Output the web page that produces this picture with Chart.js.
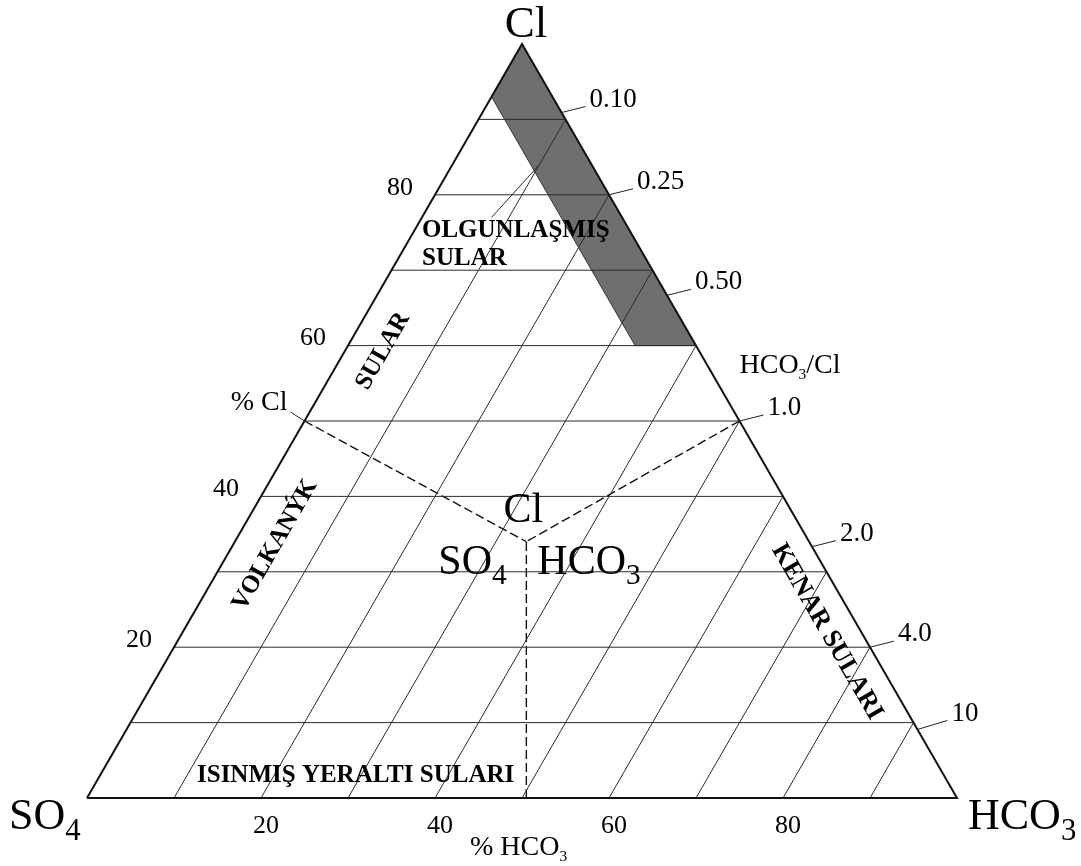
<!DOCTYPE html>
<html>
<head>
<meta charset="utf-8">
<title>Cl – SO4 – HCO3 üçgen diyagramı</title>
<script src="https://cdn.jsdelivr.net/npm/chart.js@4.4.1/dist/chart.umd.min.js"></script>
<style>
  html, body { margin: 0; padding: 0; background: #ffffff; }
  #wrap { width: 1081px; height: 866px; }
</style>
</head>
<body>
<div id="wrap"><canvas id="c" width="1081" height="866"></canvas></div>
<script>
// ---- ternary data (percent of Cl, HCO3; SO4 is the remainder) ----
const CL_LEVELS    = [10, 20, 30, 40, 50, 60, 70, 80, 90];
const HCO3_LEVELS  = [10, 20, 30, 40, 50, 60, 70, 80, 90];
const CL_LABELS    = [20, 40, 60, 80];
const HCO3_LABELS  = [20, 40, 60, 80];
const RATIOS       = [0.10, 0.25, 0.50, 1.0, 2.0, 4.0, 10];
const RATIO_LABELS = ['0.10', '0.25', '0.50', '1.0', '2.0', '4.0', '10'];

// mature-water band (closed polygon)
const MATURE_CL   = [100, 93, 60, 60, 100];
const MATURE_HCO3 = [0, 0, 33, 40, 0];

// dashed dividing lines meet at the centre point
const CENTRE_CL = 34;
const CENTRE_HCO3 = 33.5;
const SPLIT_CL   = [50, 50, 0];
const SPLIT_HCO3 = [0, 50, 50.5];

// leader from the "OLGUNLAŞMIŞ SULAR" label
const LEADER_CL   = [77, 84];
const LEADER_HCO3 = [8, 10];

const SQ = Math.sqrt(3) / 2;
const tern = (cl, h) => ({ x: h + cl / 2, y: cl * SQ });

const FONT = '"Liberation Serif", "Times New Roman", serif';

function seg(points, opts) {
  return Object.assign({
    data: points,
    showLine: true,
    borderColor: '#2b2b2b',
    borderWidth: 1,
    pointRadius: 0,
    pointHoverRadius: 0,
    fill: false,
    clip: false,
    tension: 0,
    order: 1
  }, opts || {});
}

const datasets = [];

// mature-water band
datasets.push(seg(MATURE_CL.map((c, i) => tern(c, MATURE_HCO3[i])), {
  fill: 'shape', backgroundColor: '#6f6f6f', borderColor: '#333333', order: 5
}));

// constant-Cl lines
CL_LEVELS.forEach(c => datasets.push(seg([tern(c, 0), tern(c, 100 - c)])));
// constant-HCO3 lines
HCO3_LEVELS.forEach(h => datasets.push(seg([tern(0, h), tern(100 - h, h)])));

// dashed dividers
SPLIT_CL.forEach((c, i) => datasets.push(seg(
  [tern(c, SPLIT_HCO3[i]), tern(CENTRE_CL, CENTRE_HCO3)],
  { borderDash: [9, 4], borderWidth: 1.4, borderColor: '#111111' }
)));

// label leader
datasets.push(seg(LEADER_CL.map((c, i) => tern(c, LEADER_HCO3[i]))));

// triangle frame
datasets.push(seg([tern(0, 0), tern(0, 100), tern(100, 0), tern(0, 0)], {
  borderColor: '#111111', borderWidth: 2, order: 0
}));

// draws a formula with subscripted digits, e.g. [['SO'], ['4', true]]
function chem(ctx, parts, x, y, size, align, subRatio, subDrop) {
  const sr = subRatio || 0.7;
  const sd = subDrop || 0.24;
  const sub = size * sr;
  let total = 0;
  parts.forEach(p => {
    ctx.font = (p[1] ? sub : size) + 'px ' + FONT;
    total += ctx.measureText(p[0]).width;
  });
  let cx = x;
  if (align === 'center') cx = x - total / 2;
  if (align === 'right') cx = x - total;
  ctx.textAlign = 'left';
  ctx.textBaseline = 'alphabetic';
  parts.forEach(p => {
    ctx.font = (p[1] ? sub : size) + 'px ' + FONT;
    ctx.fillText(p[0], cx, p[1] ? y + size * sd : y);
    cx += ctx.measureText(p[0]).width;
  });
}

function rotated(ctx, text, cx, cy, deg, font) {
  ctx.save();
  ctx.translate(cx, cy);
  ctx.rotate(deg * Math.PI / 180);
  ctx.font = font;
  ctx.textAlign = 'center';
  ctx.textBaseline = 'middle';
  ctx.fillText(text, 0, 0);
  ctx.restore();
}

const annotations = {
  id: 'annotations',
  afterDatasetsDraw(chart) {
    const ctx = chart.ctx;
    const sx = chart.scales.x, sy = chart.scales.y;
    const px = (cl, h) => {
      const p = tern(cl, h);
      return { x: sx.getPixelForValue(p.x), y: sy.getPixelForValue(p.y) };
    };
    ctx.save();
    ctx.fillStyle = '#000000';
    ctx.strokeStyle = '#222222';
    ctx.lineWidth = 1;

    // corner names
    const top = px(100, 0);
    chem(ctx, [['Cl']], top.x + 4, top.y - 7, 45, 'center');
    const bl = px(0, 0), br = px(0, 100);
    chem(ctx, [['SO'], ['4', true]], bl.x - 78, bl.y + 31, 44, 'left');
    chem(ctx, [['HCO'], ['3', true]], br.x + 11, br.y + 31, 44, 'left');

    // centre names
    const c = px(CENTRE_CL, CENTRE_HCO3);
    chem(ctx, [['Cl']], c.x - 3, c.y - 20, 42, 'center');
    chem(ctx, [['SO'], ['4', true]], c.x - 88, c.y + 32, 42, 'left');
    chem(ctx, [['HCO'], ['3', true]], c.x + 11, c.y + 32, 42, 'left');

    // % Cl scale numbers on the left side
    ctx.font = '26px ' + FONT;
    ctx.textAlign = 'center';
    ctx.textBaseline = 'middle';
    CL_LABELS.forEach(v => {
      const p = px(v, 0);
      ctx.fillText(String(v), p.x - 35, p.y - 7);
    });
    // % HCO3 scale numbers along the base
    HCO3_LABELS.forEach(v => {
      const p = px(0, v);
      ctx.fillText(String(v), p.x + 5, p.y + 28);
    });

    // axis captions
    const mid = px(50, 0);
    ctx.font = '28px ' + FONT;
    ctx.textAlign = 'right';
    ctx.textBaseline = 'alphabetic';
    ctx.fillText('% Cl', mid.x - 17, mid.y - 11);
    ctx.beginPath();
    ctx.moveTo(mid.x, mid.y);
    ctx.lineTo(mid.x - 14, mid.y - 9);
    ctx.stroke();
    chem(ctx, [['% HCO'], ['3', true]], 470, bl.y + 57, 28, 'left', 0.55, 0.2);

    // HCO3/Cl ratio marks on the right side
    const one = px(50, 50);
    chem(ctx, [['HCO'], ['3', true], ['/Cl']], one.x, one.y - 48, 28, 'left', 0.55, 0.2);
    ctx.font = '27px ' + FONT;
    RATIOS.forEach((r, i) => {
      const cl = 100 / (1 + r);
      const p = px(cl, 100 - cl);
      const dx = r >= 10 ? 30 : 24, dy = r >= 10 ? -9 : -6;
      ctx.beginPath();
      ctx.moveTo(p.x, p.y);
      ctx.lineTo(p.x + dx, p.y + dy);
      ctx.stroke();
      ctx.textAlign = 'left';
      ctx.textBaseline = 'middle';
      ctx.fillText(RATIO_LABELS[i], p.x + dx + 4, p.y + dy - 7);
    });

    // water-type regions
    ctx.textAlign = 'left';
    ctx.textBaseline = 'alphabetic';
    ctx.font = 'bold 25px ' + FONT;
    ctx.fillText('OLGUNLAŞMIŞ', 422, 237);
    ctx.fillText('SULAR', 422, 265);
    ctx.fillText('ISINMIŞ YERALTI SULARI', 197, 782);
    rotated(ctx, 'SULAR', 383, 351, -60, 'bold 25px ' + FONT);
    rotated(ctx, 'VOLKANÝK', 275, 545, -60, 'bold 25px ' + FONT);
    rotated(ctx, 'KENAR SULARI', 827, 632, 60, 'bold 26px ' + FONT);

    ctx.restore();
  }
};

new Chart(document.getElementById('c'), {
  type: 'scatter',
  data: { datasets },
  options: {
    responsive: false,
    animation: false,
    events: [],
    layout: { padding: { left: 87, right: 124, top: 44, bottom: 68 } },
    scales: {
      x: { type: 'linear', min: 0, max: 100, display: false },
      y: { type: 'linear', min: 0, max: 100 * SQ, display: false }
    },
    plugins: {
      legend: { display: false },
      tooltip: { enabled: false },
      title: { display: false }
    }
  },
  plugins: [annotations]
});
</script>
</body>
</html>
